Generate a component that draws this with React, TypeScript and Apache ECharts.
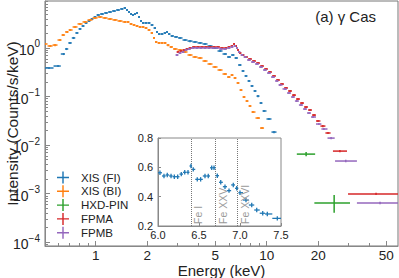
import React, { useEffect, useRef } from 'react';
import * as echarts from 'echarts';

// ---------- Main panel data (energy keV, intensity counts/s/keV) ----------
const fiE = [0.533, 0.602, 0.648, 0.675, 0.707, 0.742, 0.777, 0.809, 0.843, 0.878, 0.914, 0.951, 0.991, 1.031, 1.089, 1.149, 1.212, 1.279, 1.35, 1.425, 1.483, 1.524, 1.566, 1.609, 1.652, 1.697, 1.744, 1.792, 1.84, 1.891, 1.968, 2.05, 2.134, 2.222, 2.283, 2.345, 2.442, 2.543, 2.612, 2.684, 2.794, 2.949, 3.112, 3.328, 3.56, 3.808, 4.074, 4.357, 4.66, 4.985, 5.333, 5.704, 6.019, 6.353, 6.614, 6.982, 7.269, 7.566, 7.879, 8.204, 8.543, 8.895, 9.262, 9.644, 10.31, 11.03];
const fiI = [0.387, 0.425, 0.752, 0.954, 1.27, 1.61, 2.04, 2.47, 2.84, 3.28, 3.6, 3.96, 4.36, 4.79, 5.02, 5.27, 5.52, 5.79, 6.07, 6.37, 6.68, 6.07, 5.52, 5.02, 4.79, 5.02, 5.27, 4.36, 3.6, 3.28, 3.28, 3.28, 2.98, 2.58, 2.14, 1.94, 1.94, 2.04, 2.14, 1.94, 1.77, 1.69, 1.61, 1.46, 1.39, 1.33, 1.27, 1.21, 1.1, 1.0, 0.867, 0.752, 0.652, 0.717, 0.622, 0.446, 0.336, 0.265, 0.209, 0.165, 0.13, 0.102, 0.0734, 0.0503, 0.0344, 0.0185];

const biE = [0.505, 0.541, 0.578, 0.618, 0.644, 0.68, 0.708, 0.757, 0.809, 0.866, 0.926, 0.99, 1.06, 1.133, 1.212, 1.297, 1.387, 1.483, 1.545, 1.609, 1.675, 1.744, 1.816, 1.891, 1.968, 2.05, 2.134, 2.192, 2.252, 2.345, 2.442, 2.543, 2.648, 2.757, 2.909, 3.112, 3.328, 3.56, 3.808, 4.074, 4.357, 4.66, 4.985, 5.333, 5.704, 6.019, 6.27, 6.527, 6.795, 7.074, 7.366, 7.669, 7.985, 8.31, 8.895, 9.39];
const biI = [1.21, 1.1, 1.15, 1.46, 1.85, 2.14, 2.35, 2.71, 3.13, 3.44, 3.78, 4.16, 4.36, 4.16, 3.96, 3.78, 3.6, 3.44, 3.44, 3.13, 2.98, 2.84, 2.71, 2.71, 2.58, 2.35, 2.04, 1.61, 1.33, 1.27, 1.27, 1.27, 1.15, 1.05, 0.954, 0.91, 0.827, 0.717, 0.652, 0.622, 0.539, 0.468, 0.406, 0.352, 0.291, 0.252, 0.277, 0.241, 0.19, 0.136, 0.0977, 0.0807, 0.0637, 0.0479, 0.036, 0.0224];

const fpmaE = [3.03, 3.154, 3.284, 3.42, 3.56, 3.757, 3.965, 4.184, 4.416, 4.66, 4.918, 5.19, 5.477, 5.781, 6.019, 6.27, 6.44, 6.614, 6.795, 6.982, 7.269, 7.566, 7.985, 8.428, 8.895, 9.39, 9.91, 10.45, 11.03, 11.64, 12.29, 12.97, 13.69, 14.44, 15.24, 16.09, 16.98, 17.92, 18.91, 19.95, 21.3, 22.83];
const fpmaI = [0.827, 0.867, 0.91, 0.954, 1.0, 1.05, 1.05, 1.05, 1.05, 1.05, 1.05, 1.05, 1.0, 1.0, 1.05, 1.1, 1.21, 1.1, 0.91, 0.789, 0.717, 0.652, 0.593, 0.539, 0.49, 0.425, 0.369, 0.32, 0.265, 0.219, 0.181, 0.15, 0.13, 0.107, 0.0888, 0.0734, 0.0608, 0.0527, 0.0415, 0.0313, 0.0246, 0.0177];

const fpmbE = [2.988, 3.112, 3.239, 3.374, 3.513, 3.707, 3.91, 4.125, 4.357, 4.598, 4.85, 5.12, 5.405, 5.704, 6.019, 6.27, 6.527, 6.7, 6.887, 7.172, 7.47, 7.879, 8.31, 8.776, 9.262, 9.77, 10.31, 10.89, 11.49, 11.96, 12.8, 13.5, 14.25, 15.0, 15.87, 16.75, 17.68, 18.66, 20.2, 21.6, 23.8];
const fpmbI = [0.717, 0.789, 0.827, 0.91, 0.954, 1.0, 1.0, 1.0, 1.0, 1.0, 1.0, 1.0, 0.954, 0.954, 1.0, 1.05, 1.1, 1.0, 0.827, 0.717, 0.652, 0.566, 0.514, 0.468, 0.406, 0.352, 0.305, 0.252, 0.209, 0.173, 0.143, 0.118, 0.0977, 0.0807, 0.0668, 0.0552, 0.0457, 0.0378, 0.0271, 0.0214, 0.0139];

// Rebinned high-energy points: [eLo, eMid, eHi, value, valueLo, valueHi]
const pinBins = [
  [15.0, 17.0, 19.2, 0.0065, 0.0059, 0.0072],
  [19.0, 24.8, 30.7, 0.00064, 0.0004, 0.00093],
];
const fpmaWide = [
  [24.4, 26.8, 29.5, 0.0075, 0.0071, 0.0079],
  [29.9, 43.6, 79.0, 0.00098, 0.00093, 0.00104],
];
const fpmbWide = [
  [25.1, 29.0, 33.7, 0.00468, 0.0044, 0.005],
  [33.7, 46.0, 79.0, 0.00064, 0.0006, 0.00068],
];
const denseRelErr = 0.05;

// ---------- Inset data (6.0-7.5 keV) ----------
const insetE = [6.024, 6.073, 6.113, 6.159, 6.199, 6.24, 6.284, 6.326, 6.366, 6.402, 6.43, 6.479, 6.52, 6.573, 6.613, 6.655, 6.683, 6.723, 6.765, 6.817, 6.866, 6.918, 6.96, 7.0, 7.073, 7.143, 7.204, 7.277, 7.333, 7.455];
const insetI = [0.563, 0.541, 0.548, 0.541, 0.536, 0.536, 0.554, 0.566, 0.566, 0.609, 0.586, 0.518, 0.518, 0.541, 0.541, 0.597, 0.597, 0.543, 0.498, 0.468, 0.441, 0.48, 0.457, 0.427, 0.377, 0.343, 0.309, 0.287, 0.282, 0.252];
const insetErr = 0.015;
const lineNames = ['Fe I', 'Fe XXV', 'Fe XXVI'];
const lineEnergies = [6.4, 6.7, 6.97];

// ---------- Axes / ticks ----------
const X_MIN = 0.505;
const X_MAX = 58.6;
const Y_MIN = 8.3e-5;
const Y_MAX = 9.3;
const xMajor = [1, 2, 5, 10, 20, 50];
const xMinor = [0.6, 0.7, 0.8, 0.9, 3, 4, 6, 7, 8, 9, 30, 40];
const yMajor = [1e-4, 1e-3, 1e-2, 1e-1, 1];
const yMinorMult = [2, 3, 4, 5, 6, 7, 8, 9];
const yDecades = [1e-5, 1e-4, 1e-3, 1e-2, 1e-1, 1];
const insetXTicks = ['6.0', '6.5', '7.0', '7.5'];

const seriesNames = ['XIS (FI)', 'XIS (BI)', 'HXD-PIN', 'FPMA', 'FPMB'];
const colors = ['#1f77b4', '#ff7f0e', '#2ca02c', '#d62728', '#9467bd'];
const FONT = '"Liberation Sans", Arial, Helvetica, sans-serif';

function logBins(E: number[], I: number[], rel: number) {
  return E.map((e, i) => {
    const lo = i > 0 ? Math.sqrt(E[i - 1] * e) : (e * e) / Math.sqrt(e * E[i + 1]);
    const hi = i < E.length - 1 ? Math.sqrt(e * E[i + 1]) : (e * e) / Math.sqrt(E[i - 1] * e);
    return [e, lo, hi, I[i], I[i] * (1 - rel), I[i] * (1 + rel)];
  });
}
function linBins(E: number[], I: number[], err: number) {
  return E.map((e, i) => {
    const lo = i > 0 ? (E[i - 1] + e) / 2 : e - (E[i + 1] - e) / 2;
    const hi = i < E.length - 1 ? (e + E[i + 1]) / 2 : e + (e - E[i - 1]) / 2;
    return [e, lo, hi, I[i], I[i] - err, I[i] + err];
  });
}
function wide(b: number[][]) {
  return b.map((r) => [r[1], r[0], r[2], r[3], r[4], r[5]]);
}

function makeRender(lw: number) {
  return (params: any, api: any) => {
    const e = api.value(0);
    const v = api.value(3);
    const a = api.coord([api.value(1), v]);
    const b = api.coord([api.value(2), v]);
    const p = api.coord([e, api.value(4)]);
    const q = api.coord([e, api.value(5)]);
    const style = { stroke: api.visual('color'), lineWidth: lw, fill: null };
    return {
      type: 'group',
      children: [
        { type: 'line', shape: { x1: a[0], y1: a[1], x2: b[0], y2: b[1] }, style },
        { type: 'line', shape: { x1: p[0], y1: p[1], x2: q[0], y2: q[1] }, style },
      ],
    };
  };
}

function supLabel(v: number) {
  const ex = Math.round(Math.log10(v));
  const s = ex < 0 ? '\u2212' + Math.abs(ex) : String(ex);
  return '{b|10}{e|' + s + '}';
}

export default function App() {
  const ref = useRef<HTMLDivElement>(null);
  useEffect(() => {
    if (!ref.current) return;
    const chart = echarts.init(ref.current, undefined, { renderer: 'svg' });
    const yMinor: number[] = [];
    yDecades.forEach((d) => yMinorMult.forEach((m) => {
      const v = d * m;
      if (v > Y_MIN && v < Y_MAX) yMinor.push(v);
    }));
    const crossIcon = 'path://M0,4.4H4.4V0H5.6V4.4H10V5.6H5.6V10H4.4V5.6H0Z';
    const tickColor = '#888';
    const txt = '#222';

    const mkSeries = (name: string, color: string, data: number[][], lw: number) => ({
      type: 'custom',
      name,
      xAxisIndex: 0,
      yAxisIndex: 0,
      clip: true,
      itemStyle: { color },
      encode: { x: [0, 1, 2], y: [3, 4, 5] },
      renderItem: makeRender(lw),
      data,
      z: 3,
    });

    const option: any = {
      animation: false,
      textStyle: { fontFamily: FONT },
      title: {
        text: '(a) \u03b3 Cas',
        right: 18,
        top: 4,
        textStyle: { fontSize: 15, fontWeight: 'normal', color: txt, fontFamily: FONT },
      },
      legend: {
        data: seriesNames.map((n) => ({ name: n, icon: crossIcon })),
        orient: 'vertical',
        left: 57,
        top: 171.5,
        padding: 0,
        itemWidth: 12,
        itemHeight: 12,
        itemGap: 1.8,
        textStyle: { fontSize: 11.5, color: txt, padding: [0, 0, 0, 7], fontFamily: FONT },
        selectedMode: false,
      },
      grid: [
        { left: 45, top: 1, width: 353, height: 245, show: true, borderColor: '#777', borderWidth: 1, backgroundColor: 'transparent', outerBoundsMode: 'none', containLabel: false },
        { left: 158, top: 138, width: 123, height: 88, show: true, borderColor: '#888', borderWidth: 1, backgroundColor: '#fff', outerBoundsMode: 'none', containLabel: false },
      ],
      xAxis: [
        {
          type: 'log', gridIndex: 0, min: X_MIN, max: X_MAX, position: 'bottom',
          axisLine: { show: true, lineStyle: { color: tickColor } },
          axisTick: { show: true, inside: true, length: 5, customValues: xMajor, lineStyle: { color: tickColor } },
          axisLabel: { show: true, customValues: xMajor, fontSize: 13.5, lineHeight: 12, color: txt, margin: 3, formatter: (v: number) => String(Number(v.toPrecision(3))) },
          splitLine: { show: false },
          name: 'Energy (keV)', nameLocation: 'middle', nameGap: 17, nameMoveOverlap: false,
          nameTextStyle: { fontSize: 15, lineHeight: 14, color: txt, fontFamily: FONT },
        },
        {
          type: 'log', gridIndex: 0, min: X_MIN, max: X_MAX, position: 'bottom', offset: 0,
          axisLine: { show: false },
          axisTick: { show: true, inside: true, length: 3, customValues: xMinor, lineStyle: { color: tickColor } },
          axisLabel: { show: false },
          splitLine: { show: false },
        },
        {
          type: 'value', gridIndex: 1, min: 6, max: 7.5, interval: 0.5,
          axisLine: { show: true, lineStyle: { color: '#888' } },
          axisTick: { show: true, inside: true, length: 3, lineStyle: { color: '#888' } },
          axisLabel: { fontSize: 11, color: txt, margin: 3, formatter: (v: number) => insetXTicks[Math.round((v - 6) / 0.5)] ?? v.toFixed(1) },
          splitLine: { show: false },
        },
      ],
      yAxis: [
        {
          type: 'log', gridIndex: 0, min: Y_MIN, max: Y_MAX, position: 'left',
          axisLine: { show: true, lineStyle: { color: tickColor } },
          axisTick: { show: true, inside: true, length: 5, customValues: yMajor, lineStyle: { color: tickColor } },
          axisLabel: {
            show: true, customValues: yMajor, margin: 5, color: txt,
            formatter: supLabel,
            rich: {
              b: { fontSize: 14, color: txt, fontFamily: FONT, lineHeight: 18, verticalAlign: 'bottom' },
              e: { fontSize: 10, color: txt, fontFamily: FONT, lineHeight: 10, verticalAlign: 'top' },
            },
          },
          splitLine: { show: false },
          name: 'Intensity (Counts/s/keV)', nameLocation: 'middle', nameGap: 25, nameRotate: 90, nameMoveOverlap: false,
          nameTextStyle: { fontSize: 15.5, color: txt, fontFamily: FONT },
        },
        {
          type: 'log', gridIndex: 0, min: Y_MIN, max: Y_MAX, position: 'left', offset: 0,
          axisLine: { show: false },
          axisTick: { show: true, inside: true, length: 3, customValues: yMinor, lineStyle: { color: tickColor } },
          axisLabel: { show: false },
          splitLine: { show: false },
        },
        {
          type: 'value', gridIndex: 1, min: 0.2, max: 0.8, interval: 0.2,
          axisLine: { show: true, lineStyle: { color: '#888' } },
          axisTick: { show: true, inside: true, length: 3, lineStyle: { color: '#888' } },
          axisLabel: { fontSize: 11, color: txt, margin: 5, formatter: (v: number) => v.toFixed(1) },
          splitLine: { show: false },
        },
      ],
      series: [
        mkSeries(seriesNames[0], colors[0], logBins(fiE, fiI, denseRelErr), 1.5),
        mkSeries(seriesNames[1], colors[1], logBins(biE, biI, denseRelErr), 1.5),
        mkSeries(seriesNames[2], colors[2], wide(pinBins), 1.5),
        mkSeries(seriesNames[3], colors[3], logBins(fpmaE, fpmaI, denseRelErr).concat(wide(fpmaWide)), 1.5),
        mkSeries(seriesNames[4], colors[4], logBins(fpmbE, fpmbI, denseRelErr).concat(wide(fpmbWide)), 1.5),
        {
          type: 'custom',
          name: 'inset',
          xAxisIndex: 2,
          yAxisIndex: 2,
          clip: true,
          itemStyle: { color: colors[0] },
          encode: { x: [0, 1, 2], y: [3, 4, 5] },
          renderItem: makeRender(1.3),
          data: linBins(insetE, insetI, insetErr),
          z: 5,
          markLine: {
            silent: true,
            symbol: 'none',
            lineStyle: { type: 'dotted', color: '#777', width: 1 },
            label: {
              show: true,
              position: 'insideStartBottom',
              distance: [2, 2],
              color: '#999',
              fontSize: 10.5,
              fontFamily: FONT,
            },
            data: lineEnergies.map((e, i) => ({ xAxis: e, label: { formatter: lineNames[i] } })),
          },
        },
      ],
    };
    chart.setOption(option);
    return () => chart.dispose();
  }, []);
  return <div ref={ref} style={{ width: 399, height: 278, position: 'absolute', left: 0, top: 0 }} />;
}
